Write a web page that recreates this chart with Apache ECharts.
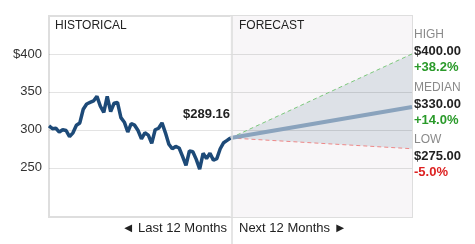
<!DOCTYPE html>
<html><head><meta charset="utf-8">
<script src="https://cdn.jsdelivr.net/npm/echarts@6/dist/echarts.min.js"></script>
<style>html,body{margin:0;padding:0;background:#fff}#c{width:475px;height:244px}</style>
</head><body><div id="c"></div>
<script>
// Historical weekly closing prices (last 12 months)
var histValues = [305,301.5,302,297,300,299,291,296,306,309,327,334,336,338,344,331,323,344,324,335,336,316,310,297,308,306,299,288,296,293,282,300,302,309,296,281,275,278,276,265,253,272,271,261,248,269,262,269,260,262,275,283,286,289.16];
// Forecast (12 months ahead)
var forecastLabels = ['HIGH','MEDIAN','LOW'];
var forecastValues = [400, 330, 275];
var forecastPct = ['+38.2%','+14.0%','-5.0%'];
var yTicks = [250,300,350,400];
var lastPrice = 289.16;

var n = histValues.length;
var x0 = n - 1, x1 = 2 * (n - 1);
var yMin = 185, yMax = 450;
var histData = histValues.map(function(v,i){return [i,v];});

var chart = echarts.init(document.getElementById('c'));
var FONT = '"Liberation Sans", Arial, sans-serif';
var gridL = 49, gridR = 63, gridT = 16, gridB = 27;

var pctColors = ['#2a9a2a','#2a9a2a','#dd2222'];
var graphics = [
  {type:'text', left:55, top:20, z:100, style:{text:'HISTORICAL', font:'12px '+FONT, fill:'#222'}},
  {type:'text', left:239, top:20, z:100, style:{text:'FORECAST', font:'12px '+FONT, fill:'#222'}},
  {type:'text', right:475-230, top:108, z:100, style:{text:'$'+lastPrice.toFixed(2), font:'bold 13px '+FONT, fill:'#222'}},
  {type:'text', right:475-227, top:222, z:100, style:{text:'\u25C4 Last 12 Months', font:'13px '+FONT, fill:'#222'}},
  {type:'text', left:239, top:222, z:100, style:{text:'Next 12 Months \u25BA', font:'13px '+FONT, fill:'#222'}},
  {type:'line', shape:{x1:232,y1:16,x2:232,y2:244}, style:{stroke:'#dcdcdc', lineWidth:1.5}, z:100}
];
var rightTops = [29, 82, 134];
forecastLabels.forEach(function(l,i){
  var t = rightTops[i];
  graphics.push({type:'text', left:414, top:t, z:100, style:{text:l, font:'12px '+FONT, fill:'#8a8a8a'}});
  graphics.push({type:'text', left:414, top:t+16, z:100, style:{text:'$'+forecastValues[i].toFixed(2), font:'bold 13px '+FONT, fill:'#222'}});
  graphics.push({type:'text', left:414, top:t+32, z:100, style:{text:forecastPct[i], font:'bold 13px '+FONT, fill:pctColors[i]}});
});

chart.setOption({
  animation:false,
  grid:{left:gridL, right:gridR, top:gridT, bottom:gridB, show:true, borderColor:'#dedede', borderWidth:2, backgroundColor:'transparent'},
  xAxis:{type:'value', min:0, max:x1, show:false},
  yAxis:{type:'value', min:yMin, max:yMax,
    axisLine:{show:false}, axisTick:{show:false, customValues:yTicks},
    axisLabel:{customValues:yTicks, margin:7, color:'#333', fontSize:13, fontFamily:FONT,
      formatter:function(v){return v===400?'$400':String(v);}},
    splitLine:{show:false}
  },
  graphic:graphics,
  series:[
    {type:'custom', silent:true, data:[[0,0]], z:1, renderItem:function(params, api){
        var a = api.coord([x0, yMax]);
        var b = api.coord([x1, yMin]);
        var p0 = api.coord([x0, lastPrice]);
        var pH = api.coord([x1, forecastValues[0]]);
        var pL = api.coord([x1, forecastValues[2]]);
        var children = [
          {type:'rect', shape:{x:a[0], y:a[1], width:b[0]-a[0], height:b[1]-a[1]}, style:{fill:'#f8f6f8'}},
          {type:'polygon', shape:{points:[p0,pH,pL]}, style:{fill:'#dde1e7'}}
        ];
        yTicks.forEach(function(v){
          var l = api.coord([0, v]), r = api.coord([x1, v]);
          var y = Math.round(l[1]) + 0.5;
          children.push({type:'line', shape:{x1:l[0], y1:y, x2:r[0], y2:y}, style:{stroke:'rgba(0,0,0,0.11)', lineWidth:1}});
        });
        return {type:'group', children:children};
      }},
    {type:'line', data:[[x0,lastPrice],[x1,forecastValues[0]]], symbol:'none', lineStyle:{color:'#7cc87c', width:1, type:[4,3]}, z:3},
    {type:'line', data:[[x0,lastPrice],[x1,forecastValues[2]]], symbol:'none', lineStyle:{color:'#ee8888', width:1, type:[4,3]}, z:3},
    {type:'line', data:[[x0,lastPrice],[x1,forecastValues[1]]], symbol:'none', lineStyle:{color:'#8aa3bd', width:4}, z:4},
    {type:'line', data:histData, symbol:'none', lineStyle:{color:'#1d4a78', width:3.5}, z:5}
  ]
});
</script></body></html>
